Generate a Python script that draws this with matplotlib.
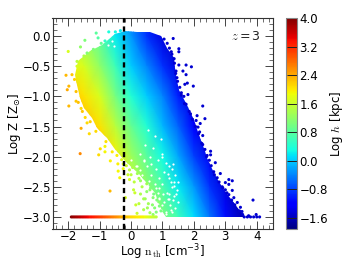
import matplotlib
matplotlib.use('Agg')
import matplotlib.pyplot as plt
from matplotlib.patches import Polygon
from matplotlib.ticker import MultipleLocator

plt.rcParams['mathtext.fontset'] = 'cm'
plt.rcParams['mathtext.default'] = 'regular'

# Log h on a regular n / Z table
grid_n = [-2.5, -2.0, -1.5, -1.0, -0.5, 0.0, 0.5, 1.0, 1.5, 2.0, 2.5, 3.0, 3.5, 4.0, 4.5]
grid_z = [0.5, 0.0, -0.5, -1.0, -1.5, -2.0, -2.5, -3.0]
grid_h = [
    [1.2, 1.1, 1.0, 0.6, 0.0, -0.5, -0.9, -1.3, -1.6, -1.8, -1.9, -1.9, -1.9, -1.9, -1.9],
    [1.6, 1.4, 1.2, 0.8, 0.2, -0.3, -0.9, -1.4, -1.7, -1.9, -1.9, -1.9, -1.9, -1.9, -1.9],
    [2.1, 1.9, 1.7, 1.2, 0.6, 0.0, -0.4, -0.9, -1.4, -1.7, -1.9, -1.9, -1.9, -1.9, -1.9],
    [2.5, 2.3, 2.05, 1.7, 1.0, 0.4, 0.0, -0.4, -1.0, -1.5, -1.8, -1.9, -1.9, -1.9, -1.9],
    [2.7, 2.5, 2.3, 2.05, 1.5, 0.9, 0.4, -0.1, -0.6, -1.2, -1.6, -1.9, -1.9, -1.9, -1.9],
    [3.0, 2.8, 2.5, 2.3, 1.95, 1.3, 0.8, 0.3, -0.2, -0.8, -1.3, -1.7, -1.9, -1.9, -1.9],
    [3.2, 3.0, 2.7, 2.4, 2.1, 1.6, 1.2, 0.7, 0.2, -0.3, -0.9, -1.4, -1.7, -1.9, -1.9],
    [3.6, 3.4, 3.0, 2.6, 2.3, 1.9, 1.6, 1.1, 0.6, 0.1, -0.5, -1.1, -1.6, -1.8, -1.9],
]

# outline of the filled part of the cloud
edge_n = [-0.5, -0.93, -1.3, -1.7, -1.78, -1.72, -1.62, -1.5, -1.24, -1.08, -0.76, -0.54,
          -0.2, 0.3, 0.75, 1.0, 1.1,
          3.63, 3.37, 2.96, 2.68, 2.42, 2.36, 2.2, 2.0, 1.78, 1.53, 1.46, 1.4, 1.37, 1.15,
          0.95, 0.6, 0.2, -0.2]
edge_z = [0.03, -0.14, -0.25, -0.42, -0.65, -0.81, -1.02, -1.19, -1.36, -1.52, -1.69, -1.85,
          -2.07, -2.3, -2.6, -2.9, -3.0,
          -3.0, -2.84, -2.56, -2.3, -2.02, -1.9, -1.69, -1.4, -1.14, -0.9, -0.74, -0.53, -0.36, -0.2,
          0.0, 0.06, 0.07, 0.08]

# stray points on the high density side
blue_n = [1.34, 1.52, 1.52, 1.28, 1.37, 1.52, 1.75, 1.92, 1.65, 1.75, 1.46, 1.79, 1.71, 1.98, 1.43,
          1.60, 1.81, 1.68, 1.75, 2.28, 1.89, 2.10, 2.35, 2.07, 2.20, 2.13, 2.18, 2.28, 2.28, 2.35,
          2.53, 2.53, 2.42, 2.49, 2.68, 2.63, 2.84, 2.74, 3.11, 3.22, 3.0, 3.11, 2.90, 3.0, 3.22,
          3.11, 3.27, 3.88, 3.38, 3.48, 3.53, 3.74, 3.98, 4.09, 3.6, 3.7, 3.8, 3.9, 4.0,
          1.05, 1.15, 1.22, 1.3, 1.38, 1.42, 1.48, 1.55, 1.6, 1.7, 1.85, 1.95, 2.05, 2.15, 2.25,
          2.4, 2.55, 2.65, 2.8, 2.92, 3.05, 3.2, 3.3, 3.45, 3.55]
blue_z = [-0.04, -0.21, -0.26, -0.26, -0.375, -0.48, -0.48, -0.51, -0.58, -0.64, -0.69, -0.78, -0.80, -0.83, -0.58,
          -0.94, -0.97, -1.0, -1.13, -1.16, -1.29, -1.32, -1.37, -1.40, -1.45, -1.51, -1.59, -1.65, -1.80, -1.88,
          -1.91, -1.97, -1.98, -2.06, -2.10, -2.25, -2.28, -2.35, -2.38, -2.40, -2.43, -2.46, -2.50, -2.55, -2.56,
          -2.63, -2.68, -2.72, -2.76, -2.84, -2.91, -2.98, -2.96, -3.0, -3.0, -3.0, -3.0, -3.0, -3.0,
          -0.05, -0.12, -0.2, -0.3, -0.45, -0.62, -0.75, -0.85, -0.98, -1.12, -1.25, -1.38, -1.5, -1.62, -1.78,
          -2.0, -2.15, -2.3, -2.42, -2.52, -2.6, -2.72, -2.8, -2.9, -2.96]

# stray points on the low density side
stray_n = [-2.0, -1.47, -1.11, -1.05, -1.61, -2.07, -1.88, -1.98, -0.71, -0.5, -0.34, -0.83, -1.4, -1.72,
           -1.98, -2.03, -1.59, -1.62, -1.03, -0.98, -0.83, -0.83, -1.33, -1.75, -1.59, -1.46, -1.4,
           -0.67, -0.66, -0.41, -0.36, 0.19, -0.18, 0.12,
           0.0, 0.1, 0.25, 0.35, 0.5, 0.6, 0.3, 0.45, 0.55, 0.7, 0.75, 0.4, 0.6, 0.7, 0.15,
           -0.95, -1.2, -1.5, -1.72, -1.8, -1.75, -1.68, -1.55, -1.3, -1.12, -0.8, -0.6, -0.42, -0.25, -0.05,
           -0.45, -0.3, -0.15, -0.05, 0.05, 0.2, 0.3, 0.42, 0.5, 0.62, 0.72, 0.82, 0.9, -0.25, -0.1,
           0.08, 0.25, 0.4, 0.52, 0.68, 0.8, 0.88, 0.95]
stray_z = [-0.255, -0.07, 0.05, -0.03, -0.18, -0.65, -0.64, -0.83, 0.07, 0.07, 0.09, -0.08, -0.28, -0.42,
           -1.16, -0.89, -1.53, -1.95, -1.97, -1.87, -1.83, -1.92, -1.62, -1.08, -1.2, -1.35, -1.44,
           -2.57, -2.07, -2.24, -2.35, -2.94, -2.68, -2.6,
           -2.3, -2.42, -2.36, -2.5, -2.45, -2.55, -2.62, -2.7, -2.78, -2.68, -2.85, -2.88, -2.93, -2.96, -2.8,
           -0.12, -0.22, -0.33, -0.5, -0.72, -0.92, -1.1, -1.25, -1.42, -1.58, -1.75, -1.92, -2.12, -2.2, -2.38,
           -1.98, -2.05, -2.15, -2.22, -2.18, -2.28, -2.4, -2.35, -2.58, -2.52, -2.62, -2.72, -2.82, -2.12, -2.3,
           -2.55, -2.78, -2.7, -2.85, -2.8, -2.92, -2.75, -2.9]
stray_h = [1.7, 1.05, 0.8, 0.75, 1.2, 2.3, 2.2, 2.3, 0.35, 0.3, 0.2, 0.5, 1.1, 1.5,
           2.3, 2.4, 2.4, 2.6, 2.1, 2.1, 1.9, 1.9, 2.1, 2.2, 2.1, 2.1, 2.1,
           2.3, 1.95, 1.9, 1.9, 1.6, 1.7, 1.6,
           1.5, 1.5, 1.4, 1.4, 1.3, 1.2, 1.4, 1.3, 1.3, 1.1, 1.1, 1.4, 1.3, 1.2, 1.6,
           0.85, 1.05, 1.4, 1.7, 2.15, 2.25, 2.25, 2.2, 2.15, 2.1, 2.05, 2.0, 1.95, 1.85, 1.7,
           1.95, 1.75, 1.6, 1.5, 1.4, 1.3, 1.25, 1.15, 1.2, 1.05, 1.0, 1.05, 1.05, 1.75, 1.6,
           1.55, 1.5, 1.35, 1.3, 1.15, 1.1, 1.1, 1.0]

# metallicity floor
floor_n = [-1.9, -1.85, -1.8, -1.75, -1.7, -1.65, -1.6, -1.55, -1.5, -1.45, -1.4, -1.35, -1.3, -1.25, -1.2,
           -1.15, -1.1, -1.05, -1.0, -0.95, -0.9, -0.85, -0.8, -0.75, -0.7, -0.65, -0.6, -0.55, -0.5, -0.45,
           -0.4, -0.35, -0.3, -0.25, -0.2, -0.15, -0.1, -0.05, 0.0, 0.05, 0.1, 0.15, 0.2, 0.25, 0.3,
           0.35, 0.4, 0.45, 0.5, 0.55, 0.6, 0.65, 0.7, 0.75, 0.8]
floor_h = [3.95, 3.9, 3.85, 3.8, 3.75, 3.7, 3.65, 3.6, 3.55, 3.5, 3.45, 3.4, 3.35, 3.33, 3.3,
           3.25, 3.2, 3.15, 3.1, 3.05, 3.0, 2.95, 2.9, 2.85, 2.8, 2.75, 2.7, 2.65, 2.6, 2.55,
           2.5, 2.45, 2.4, 2.35, 2.3, 2.25, 2.2, 2.15, 2.1, 2.07, 2.05, 2.02, 2.0, 1.97, 1.95,
           1.92, 1.9, 1.85, 1.8, 1.75, 1.7, 1.65, 1.6, 1.55, 1.5]

# empty spots inside the sparse low metallicity part
gap_n = [0.55, 0.75, 0.95, 0.45, 0.7, 1.0, 0.3, 0.6, 0.85, 1.1, 0.2, 0.5, 0.8, 1.05, 1.3,
         0.35, 0.65, 0.9, 1.2, 1.4, 0.5, 0.75, 1.0, 1.3, 0.6, 0.85, 1.15, 1.45, 0.9, 1.2,
         1.35, 1.0, 1.25, 1.5, 0.95, 1.1, 1.4, 1.05, 1.3, 0.9, 1.2, 1.0, 1.35, 0.0, 0.15, 0.4,
         -0.1, 0.1, 0.3, 0.65, -0.62, -0.72, -0.55,
         1.18, 1.28, 1.38, 1.22, 1.32, 1.16, 1.42, 1.26, 1.12, 1.48, 1.34, 0.42, 0.58, 0.78, 0.88, 1.02]
gap_z = [-1.55, -1.65, -1.7, -1.8, -1.85, -1.95, -1.95, -2.0, -2.05, -2.1, -2.15, -2.15, -2.2, -2.25, -2.2,
         -2.3, -2.3, -2.35, -2.35, -2.3, -2.45, -2.45, -2.45, -2.5, -2.6, -2.6, -2.6, -2.55, -2.7, -2.7,
         -2.65, -2.8, -2.8, -2.75, -2.88, -2.92, -2.85, -2.75, -2.92, -2.52, -2.15, -2.0, -2.42, -2.05, -2.15, -2.05,
         -2.2, -2.3, -2.22, -2.12, -0.08, -0.15, -0.17,
         -2.28, -2.42, -2.48, -2.62, -2.72, -2.7, -2.62, -2.88, -2.95, -2.42, -2.12, -2.08, -2.4, -2.52, -2.68, -2.62]

cbar_ticks = [-1.6, -0.8, 0.0, 0.8, 1.6, 2.4, 3.2, 4.0]

fig = plt.figure(figsize=(3.52, 2.64), dpi=100)
ax = fig.add_axes([52.5 / 352, 1 - 229 / 264, 220 / 352, 211 / 264])
cax = fig.add_axes([286 / 352, 1 - 229 / 264, 10.5 / 352, 211 / 264])

vmin, vmax = -1.92, 4.0
mesh = ax.pcolormesh(grid_n, grid_z, grid_h, cmap='jet', vmin=vmin, vmax=vmax, shading='gouraud', rasterized=True)
clip = Polygon(list(zip(edge_n, edge_z)), closed=True, transform=ax.transData, facecolor='none', edgecolor='none')
ax.add_patch(clip)
mesh.set_clip_path(clip)

ax.scatter(gap_n, gap_z, s=2.5, c='white', linewidths=0, zorder=2)
ax.scatter(stray_n, stray_z, s=5.0, c=stray_h, cmap='jet', vmin=vmin, vmax=vmax, linewidths=0, zorder=3)
ax.scatter(blue_n, blue_z, s=5.0, c=[-1.5] * len(blue_n), cmap='jet', vmin=vmin, vmax=vmax, linewidths=0, zorder=3)
ax.scatter(floor_n, [-3.0] * len(floor_n), s=5.0, c=floor_h, cmap='jet', vmin=vmin, vmax=vmax, linewidths=0, zorder=3)

ax.axvline(-0.22, color='k', lw=1.7, ls=(0, (2.2, 1.6)), zorder=4)

ax.set_xlim(-2.5, 4.5)
ax.set_ylim(-3.2, 0.3)
ax.xaxis.set_major_locator(MultipleLocator(1))
ax.xaxis.set_minor_locator(MultipleLocator(0.2))
ax.yaxis.set_major_locator(MultipleLocator(0.5))
ax.yaxis.set_minor_locator(MultipleLocator(0.1))
ax.tick_params(which='major', direction='in', top=True, right=True, length=6, width=0.7, color='#444444', labelsize=8.5, pad=1)
ax.tick_params(which='minor', direction='in', top=True, right=True, length=3, width=0.6, color='#555555')
for s in ax.spines.values():
    s.set_linewidth(0.8)
    s.set_color('#333333')

ax.set_xlabel(r'Log $\mathrm{n_{th}}$ [cm$^{-3}$]', fontsize=8.5, labelpad=-1)
ax.set_ylabel(r'Log Z [Z$_{\odot}$]', fontsize=8.5, labelpad=0)
ax.text(0.948, 0.912, r'$\mathit{z}=3$', transform=ax.transAxes, ha='right', va='center', fontsize=9, color='#222222')

cbar = fig.colorbar(mesh, cax=cax, ticks=cbar_ticks)
cbar.ax.tick_params(direction='in', length=10.5 * 0.72, width=0.7, labelsize=8.5, pad=2, color='#222222')
cbar.outline.set_linewidth(0.8)
cbar.outline.set_edgecolor('#888888')
cbar.set_label(r'Log $\mathit{h}$ [kpc]', fontsize=8.5, labelpad=0)

fig.savefig('out.png', dpi=100)
